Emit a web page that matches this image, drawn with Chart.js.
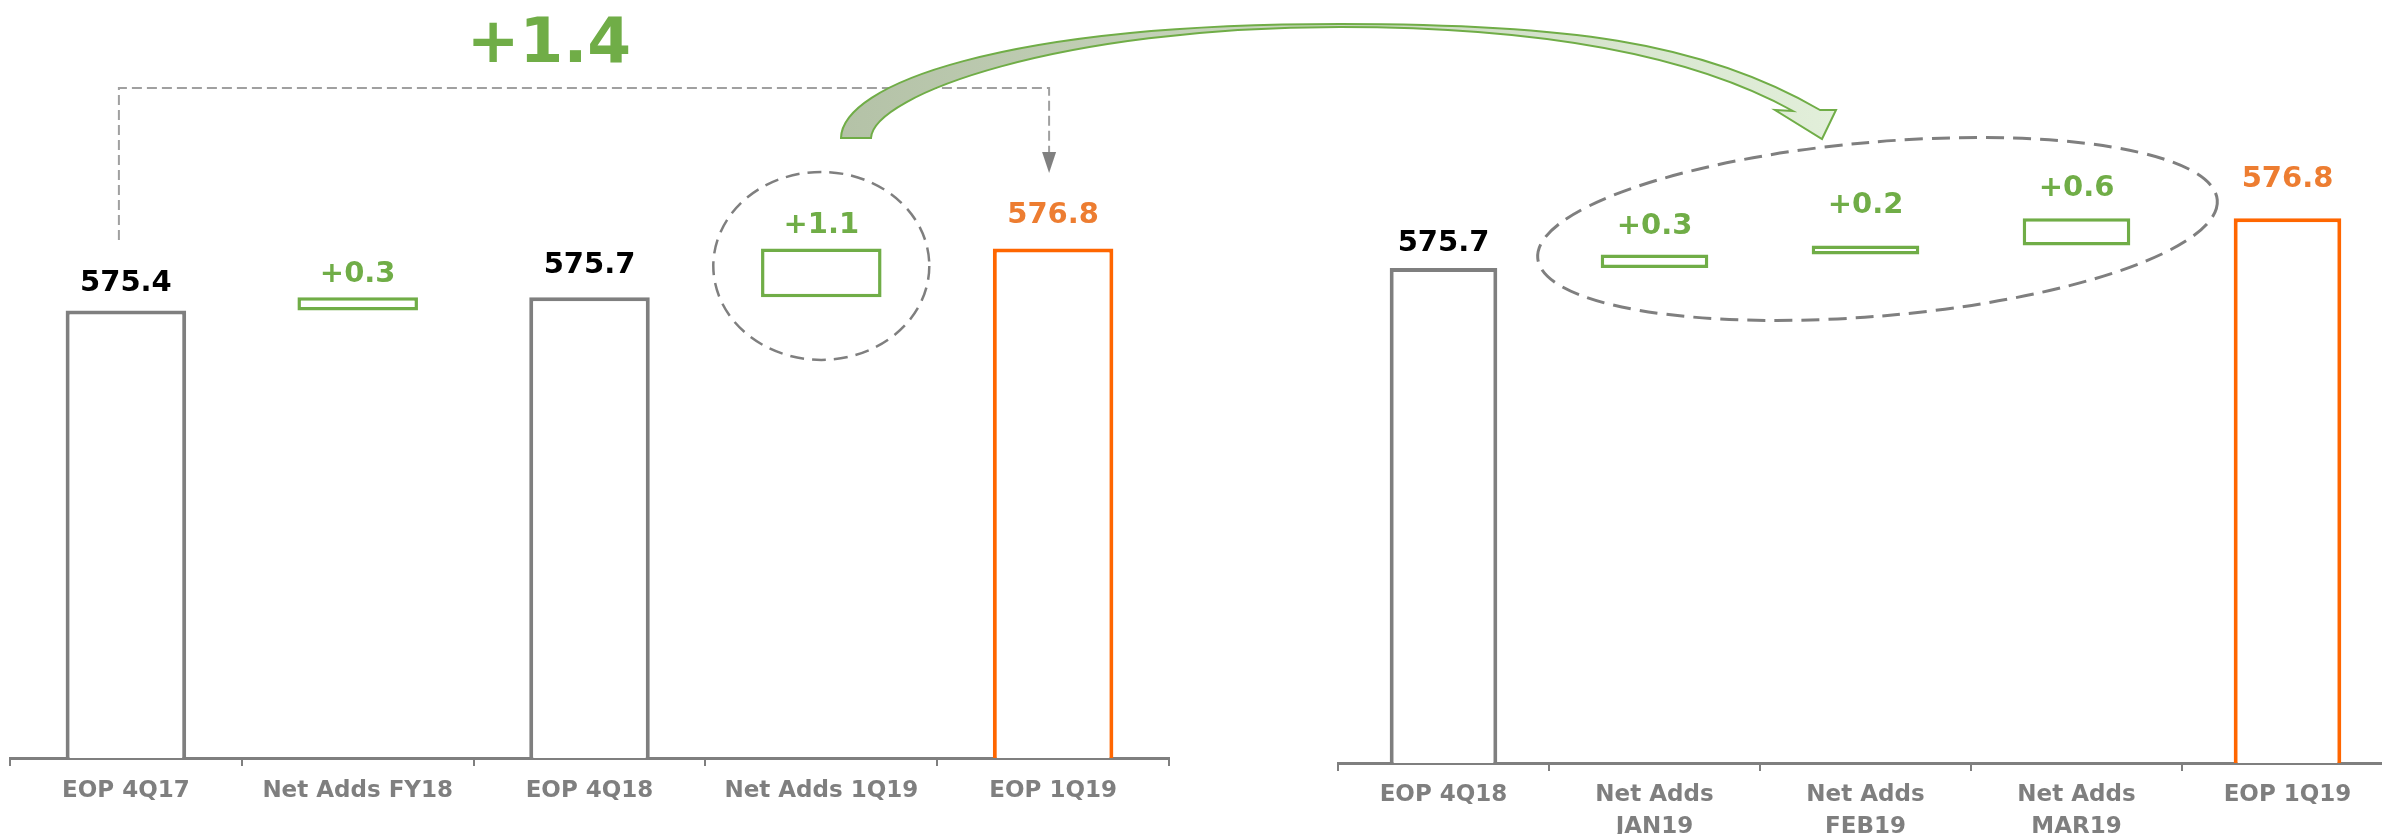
<!DOCTYPE html>
<html><head><meta charset="utf-8">
<script src="https://cdn.jsdelivr.net/npm/chart.js@4"></script>
<style>
html,body{margin:0;padding:0;background:#fff;overflow:hidden;width:2382px;height:834px}
canvas{position:absolute;top:0}
#left{left:0}
#right{left:1330px}
#overlay{left:0;pointer-events:none}
</style></head><body>
<canvas id="left" width="1180" height="834"></canvas>
<canvas id="right" width="1070" height="834"></canvas>
<canvas id="overlay" width="2382" height="834"></canvas>
<script>
// ---- data ----
const leftCategories = ['EOP 4Q17', 'Net Adds FY18', 'EOP 4Q18', 'Net Adds 1Q19', 'EOP 1Q19'];
const leftValues = [575.4, 0.3, 575.7, 1.1, 576.8];
const leftKinds = ['total', 'delta', 'total', 'delta', 'final'];

const rightCategories = ['EOP 4Q18', ['Net Adds', 'JAN19'], ['Net Adds', 'FEB19'], ['Net Adds', 'MAR19'], 'EOP 1Q19'];
const rightValues = [575.7, 0.3, 0.2, 0.6, 576.8];
const rightKinds = ['total', 'delta', 'delta', 'delta', 'final'];

const totalChange = 1.4;

// ---- styles ----
const GRAY = '#7f7f7f';
const GREEN = '#70ad47';
const ORANGE = '#ff6600';
const ORANGE_TEXT = '#ed7d31';
const FONT = '"DejaVu Sans", Verdana, sans-serif';

function buildFloating(values, kinds) {
  let running = 0;
  return values.map((v, i) => {
    if (kinds[i] === 'delta') { const r = [running, running + v]; running += v; return r; }
    running = v; return v;
  });
}

function labelPlugin(values, kinds, gaps) {
  return {
    id: 'valueLabels',
    afterDatasetsDraw(chart) {
      const ctx = chart.ctx;
      const meta = chart.getDatasetMeta(0);
      ctx.save();
      ctx.font = 'bold 29px ' + FONT;
      ctx.textAlign = 'center';
      ctx.textBaseline = 'alphabetic';
      meta.data.forEach((el, i) => {
        const k = kinds[i];
        const txt = k === 'delta' ? '+' + values[i].toFixed(1) : values[i].toFixed(1);
        ctx.fillStyle = k === 'delta' ? GREEN : (k === 'final' ? ORANGE_TEXT : '#000');
        const top = Math.min(el.y, el.base);
        ctx.fillText(txt, el.x, top - gaps[i]);
      });
      ctx.restore();
    }
  };
}

function makeChart(id, categories, values, kinds, yMin, yMax, padL, padR, barPct, gaps, axisH, tickPad, deco) {
  return new Chart(document.getElementById(id), {
    type: 'bar',
    data: {
      labels: categories,
      datasets: [{
        data: buildFloating(values, kinds),
        backgroundColor: '#ffffff',
        borderColor: kinds.map(k => k === 'delta' ? GREEN : (k === 'final' ? ORANGE : GRAY)),
        borderWidth: kinds.map(k => k === 'delta' ? 3.5 : 4),
        borderSkipped: false,
        barPercentage: barPct,
        categoryPercentage: 1
      }]
    },
    options: {
      responsive: false,
      animation: false,
      devicePixelRatio: 1,
      layout: { padding: { left: padL, right: padR, top: 0, bottom: 0 } },
      plugins: { legend: { display: false }, tooltip: { enabled: false } },
      scales: {
        x: {
          offset: true,
          grid: { display: true, offset: true, drawOnChartArea: false, drawTicks: true, tickLength: 8, tickWidth: 2, tickColor: GRAY, color: GRAY, lineWidth: 2 },
          border: { display: true, color: GRAY, width: 3 },
          ticks: { color: GRAY, font: { family: FONT, size: 23, weight: 'bold', lineHeight: 1.35 }, padding: tickPad, maxRotation: 0, minRotation: 0, autoSkip: false },
          afterFit(axis) { axis.height = axisH; }
        },
        y: { display: false, min: yMin, max: yMax }
      }
    },
    plugins: [labelPlugin(values, kinds, gaps), deco]
  });
}

const leftDeco = {
  id: 'leftDeco',
  afterDraw(chart) {
    const ctx = chart.ctx;
    const d = chart.getDatasetMeta(0).data;
    ctx.save();
    // dashed ellipse around Net Adds 1Q19
    const e = d[3];
    ctx.strokeStyle = GRAY; ctx.lineWidth = 2.5; ctx.setLineDash([14, 8]);
    ctx.beginPath();
    ctx.ellipse(e.x, (e.y + e.base) / 2 - 7, 108, 94, 0, 0, Math.PI * 2);
    ctx.stroke();
    // dashed bracket from first to last bar
    const x0 = d[0].x - 7, x1 = d[4].x - 4, yTop = 88;
    ctx.strokeStyle = '#a0a0a0'; ctx.lineWidth = 2; ctx.setLineDash([10, 5]);
    ctx.beginPath();
    ctx.moveTo(x0, 240); ctx.lineTo(x0, yTop); ctx.lineTo(x1, yTop); ctx.lineTo(x1, 154);
    ctx.stroke();
    ctx.setLineDash([]);
    ctx.fillStyle = '#808080';
    ctx.beginPath();
    ctx.moveTo(x1 - 7, 152); ctx.lineTo(x1 + 7, 152); ctx.lineTo(x1, 173); ctx.closePath();
    ctx.fill();
    // total change text
    ctx.fillStyle = GREEN;
    ctx.font = 'bold 63px ' + FONT;
    ctx.textAlign = 'center'; ctx.textBaseline = 'alphabetic';
    ctx.fillText('+' + totalChange.toFixed(1), 549, 62);
    ctx.restore();
  }
};

const rightDeco = {
  id: 'rightDeco',
  afterDraw(chart) {
    const ctx = chart.ctx;
    const d = chart.getDatasetMeta(0).data;
    const cx = (d[1].x + d[2].x + d[3].x) / 3 + 12;
    ctx.save();
    ctx.strokeStyle = GRAY; ctx.lineWidth = 3; ctx.setLineDash([18, 9]);
    ctx.beginPath();
    ctx.ellipse(cx, 229, 341, 87, -4.9 * Math.PI / 180, 0, Math.PI * 2);
    ctx.stroke();
    ctx.restore();
  }
};

makeChart('left', leftCategories, leftValues, leftKinds, 565.3, 582.41, 10, 11, 0.52, [20, 15, 24, 16, 26], 76, 10, leftDeco);
makeChart('right', rightCategories, rightValues, rightKinds, 564.81, 581.6, 8, 7, 0.51, [17, 20, 32, 22, 31], 71, 9, rightDeco);

// ---- curved arrow linking the two views ----
(function () {
  const ctx = document.getElementById('overlay').getContext('2d');
  const g = ctx.createLinearGradient(841, 0, 1836, 0);
  g.addColorStop(0, '#b4c2a7');
  g.addColorStop(1, '#e2efda');
  ctx.beginPath();
  ctx.moveTo(841, 138);
  ctx.bezierCurveTo(842, 85, 1000, 24, 1340, 24);
  ctx.bezierCurveTo(1560, 24, 1700, 40, 1820, 110);
  ctx.lineTo(1836, 110);
  ctx.lineTo(1822, 139);
  ctx.lineTo(1775, 110);
  ctx.lineTo(1793, 111);
  ctx.bezierCurveTo(1703, 61, 1560, 27, 1340, 27);
  ctx.bezierCurveTo(1060, 27, 873, 95, 871, 138);
  ctx.closePath();
  ctx.fillStyle = g;
  ctx.fill();
  ctx.strokeStyle = GREEN;
  ctx.lineWidth = 2;
  ctx.lineJoin = 'miter';
  ctx.stroke();
})();
</script></body></html>
